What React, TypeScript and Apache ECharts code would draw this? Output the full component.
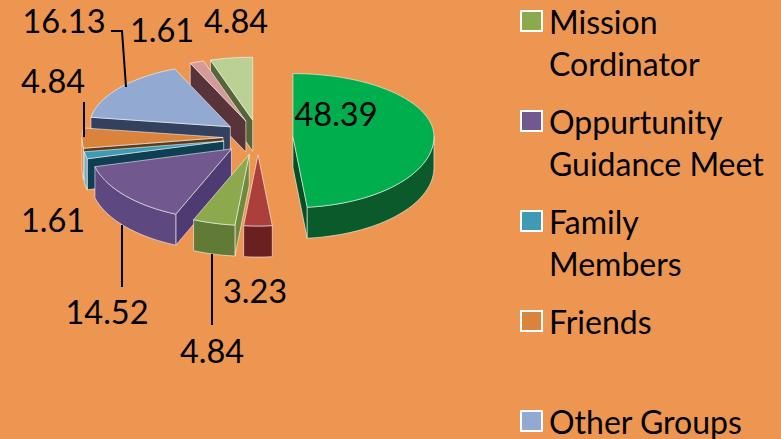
import React, { useEffect, useRef } from "react";
import * as echarts from "echarts";

// Clockwise from 12 o'clock
const sliceNames = ["", "", "Mission\nCordinator", "Oppurtunity\nGuidance Meet", "Family\nMembers", "Friends", "Other Groups", "", ""];
const sliceValues = [48.39, 3.23, 4.84, 14.52, 1.61, 4.84, 16.13, 1.61, 4.84];
const legendNames = ["Mission\nCordinator", "Oppurtunity\nGuidance Meet", "Family\nMembers", "Friends", "Other Groups"];

const topColors = ["#00AE4E", "#AA3F3C", "#8CAA4D", "#71588F", "#3F9BB4", "#DA833C", "#92AAD1", "#D59B9A", "#BAD094"];
const wallColors = ["#0A5A2C", "#6A1F20", "#617A36", "#5D4880", "#6FB0C4", "#C47436", "#33415F", "#6B3A3D", "#5E7040"];
const cutColors = ["#064F26", "#6A1F20", "#6E8B3D", "#4F3B73", "#0F3F52", "#5C3A1C", "#33415F", "#58343A", "#566639"];
const swatchColors = ["#00AE4E", "#AA3F3C", "#8CAA4D", "#71588F", "#3F9BB4", "#DA833C", "#92AAD1", "#D59B9A", "#BAD094"];

// Painter's order, back to front
const drawOrder = [8, 7, 6, 5, 4, 3, 0, 2, 1];

// Label placement per slice
const labelCenters = [[336, 113], [255, 290], [212, 350], [107, 311], [53, 219], [53, 80], [64, 20], [162, 29], [236, 20]];
const leaderLines: Record<number, number[][]> = {
  2: [[212, 254], [212, 325]],
  3: [[122, 225], [122, 287]],
  5: [[84, 102], [84, 137]],
  6: [[111, 31], [122, 31], [126, 87]],
};

const W = 781, H = 439;
const BG = "#EC9652";
const CX = 258, CY = 137.5, EXPLODE = 35, EX_Y = 0.5;
const RX = 141, RY_BACK = 63, RY_FRONT = 71, DEPTH = 31;
const FONT = "Lato";
const rad = (d: number) => (d * Math.PI) / 180;
const total = sliceValues.reduce((a, b) => a + b, 0);

function angles(i: number) {
  let s = 0;
  for (let k = 0; k < i; k++) s += sliceValues[k];
  return [(s / total) * 360, ((s + sliceValues[i]) / total) * 360];
}

function point(c: number[], a: number, dy = 0) {
  const co = Math.cos(rad(a));
  return [c[0] + RX * Math.sin(rad(a)), c[1] - co * (co > 0 ? RY_BACK : RY_FRONT) + dy];
}

function arc(c: number[], a0: number, a1: number, dy = 0) {
  const n = Math.max(2, Math.ceil(Math.abs(a1 - a0) / 3));
  const pts: number[][] = [];
  for (let k = 0; k <= n; k++) pts.push(point(c, a0 + ((a1 - a0) * k) / n, dy));
  return pts;
}

const EDGE = "rgba(255,255,255,0.55)";

function renderSlice(i: number) {
  const [s, e] = angles(i);
  const m = (s + e) / 2;
  const c = [CX + EXPLODE * Math.sin(rad(m)), CY - EXPLODE * EX_Y * Math.cos(rad(m))];
  const children: any[] = [];
  const poly = (points: number[][], fill: any, stroke = EDGE, lineWidth = 1) =>
    children.push({ type: "polygon", shape: { points }, style: { fill, stroke, lineWidth } });

  if (Math.sin(rad(s)) < -1e-6) {
    const o = point(c, s);
    poly([c, o, [o[0], o[1] + DEPTH], [c[0], c[1] + DEPTH]], cutColors[i]);
  }
  if (Math.sin(rad(e)) > 1e-6) {
    const o = point(c, e);
    poly([c, o, [o[0], o[1] + DEPTH], [c[0], c[1] + DEPTH]], cutColors[i]);
  }
  const w0 = Math.max(s, 90), w1 = Math.min(e, 270);
  if (w1 > w0) {
    poly([...arc(c, w0, w1), ...arc(c, w1, w0, DEPTH)], wallColors[i]);
  }
  poly([c, ...arc(c, s, e)], topColors[i]);

  if (leaderLines[i]) {
    children.push({
      type: "polyline",
      shape: { points: leaderLines[i] },
      style: { stroke: "#000", lineWidth: 2, fill: "none" },
    });
  }
  children.push({
    type: "text",
    x: labelCenters[i][0],
    y: labelCenters[i][1],
    style: {
      text: sliceValues[i].toFixed(2),
      fill: "#000",
      font: `32.5px ${FONT}`,
      align: "center",
      verticalAlign: "middle",
    },
  });
  return { type: "group", children };
}

export default function App() {
  const ref = useRef<HTMLDivElement>(null);
  useEffect(() => {
    document.body.style.margin = "0";
    const chart = echarts.init(ref.current!, undefined, { renderer: "svg", width: W, height: H });
    chart.setOption({
      animation: false,
      backgroundColor: BG,
      legend: {
        orient: "vertical",
        left: 520,
        top: -42,
        height: 900,
        padding: 0,
        itemGap: -26,
        itemWidth: 21,
        itemHeight: 20,
        selectedMode: false,
        data: legendNames.map((name) => ({
          name,
          icon: "rect",
          itemStyle: {
            color: swatchColors[sliceNames.indexOf(name)],
            borderColor: "#fff",
            borderWidth: 2,
          },
        })),
        formatter: (n: string) => "\n" + (n.includes("\n") ? n : n + "\n "),
        textStyle: {
          fontFamily: FONT,
          fontSize: 32,
          lineHeight: 42,
          color: "#000",
          padding: [0, 0, 0, 2],
        },
      },
      series: drawOrder.map((i) => ({
        type: "custom",
        name: sliceNames[i] || undefined,
        coordinateSystem: "none",
        silent: true,
        itemStyle: { color: swatchColors[i] },
        data: [[sliceValues[i]]],
        renderItem: () => renderSlice(i),
      })),
    });
    return () => chart.dispose();
  }, []);
  return <div ref={ref} style={{ width: W, height: H, background: BG }} />;
}
